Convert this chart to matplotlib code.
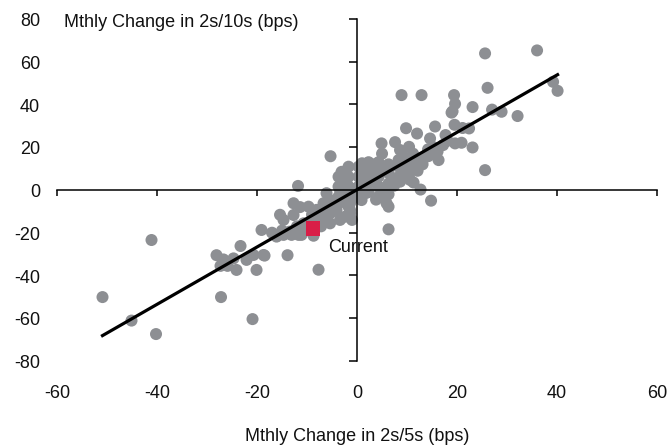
import numpy as np
from matplotlib import pyplot as plt
from matplotlib import transforms

plt.rcParams['font.family'] = ['Liberation Sans', 'DejaVu Sans']

# monthly changes, 2s/5s (x) vs 2s/10s (y), bps
chg_2s5s = [
    -50.9, -45.1, -40.2, -41.1, -27.2, -20.9, -28.1, -26.7, -27.3, -23.3,
    -24.1, -22.1, -20.1, -20.7, -18.5, -19.1, -13.9, -7.7, -11.8, -12.7,
    -15.4, -16.1, -14.7, -5.3, -3.1, 6.3, 14.8, 12.7, 8.6, 10.6,
    11.3, 6.3, 4.9, 7.6, 9.8, 12.0, 10.4, 15.6, 14.6, 17.7,
    19.5, 18.9, 8.9, 12.9, 19.4, 19.6, 19.1, 23.1, 26.1, 25.6,
    36.0, 27.0, 28.9, 32.1, 39.2, 40.1, 21.1, 22.4, 19.6, 20.9,
    23.1, 25.6, 14.3, 13.9, 9.3, 8.6, 5.0, 10.3, 0.9, -1.4,
    -1.4, 5.9, -8.7, -24.7, -18.7, -25.9,
    -13.1, -11.7, -11.1, -9.7, -8.1, -6.7, -5.4, -3.4, -2.1, -14.7,
    -12.7, -10.7, -12.0, -8.7, -6.7, -5.4, -4.1, -2.1, -0.7, -5.4,
    -3.4, -1.4, -1.0, -17.0, -16.0, -15.0, -13.5, -12.4, -10.2, -9.3,
    -7.6, -6.2, -4.8, -3.0, -2.6, -1.8, -0.4, -6.1, -4.0, -2.4,
    -3.7, -3.7, -3.7, -1.7, -1.7, -1.7, -1.7, -1.7, 0.3, 0.3,
    0.3, 0.3, 2.3, 2.3, 2.3, 2.3, 2.3, 4.3, 4.3, 4.3,
    4.3, 4.3, 6.3, 6.3, 6.3, 6.3, 8.3, 8.3, 8.3, 1.2,
    3.1, 5.2, 7.1, 9.4, 1.0, 3.5, 0.8, 2.9, 11.0, 12.2,
    13.1, 14.2, 15.3, 16.1, 17.2, 12.1, 11.2, 16.3, 18.1, 9.8,
    -0.9, 1.7, -2.8, 3.8, 5.6, 7.4, 10.1, -9.0, -7.2, -11.4,
]
chg_2s10s = [
    -50.1, -61.1, -67.4, -23.4, -50.1, -60.4, -30.5, -32.5, -35.5, -26.2,
    -37.4, -32.7, -37.4, -30.4, -30.7, -18.7, -30.5, -37.3, 1.9, -6.2,
    -11.6, -21.8, -21.0, 15.8, 8.5, -18.4, -5.0, 0.2, 3.9, 4.7,
    3.5, -7.8, 21.8, 22.4, 28.9, 26.4, 20.2, 29.7, 24.1, 25.7,
    30.5, 36.2, 44.4, 44.4, 44.4, 40.3, 36.8, 38.8, 47.8, 63.9,
    65.3, 37.6, 36.6, 34.6, 50.6, 46.4, 29.0, 28.8, 21.8, 22.1,
    19.9, 9.3, 15.9, 15.6, 15.6, 18.7, 17.0, 7.0, -4.7, -6.2,
    -9.4, -6.2, -21.4, -32.0, -30.4, -35.5,
    -21.0, -21.0, -21.0, -7.8, -9.3, -6.2, -4.7, 0.0, 3.1, -14.0,
    -11.7, -15.6, -17.0, -14.0, -12.5, -10.9, -9.3, -6.2, -3.1, -15.6,
    -14.0, -10.9, -14.0, -20.0, -21.5, -19.0, -19.5, -18.5, -17.5, -15.0,
    -12.0, -8.5, -10.0, -3.0, -5.5, -1.0, -2.5, -1.5, -7.0, -12.5,
    -3.1, 1.6, 6.2, -7.8, -3.1, 1.6, 6.2, 10.9, -3.1, 1.6,
    6.2, 10.9, -1.0, 3.0, 7.0, 11.0, 13.0, 1.6, 6.2, 10.9,
    13.0, -3.1, 3.0, 8.0, 12.0, -2.0, 6.0, 10.9, 14.0, 4.5,
    5.0, 9.0, 5.5, 10.0, 12.5, 12.0, 8.0, 9.5, 12.0, 14.0,
    12.0, 19.0, 20.0, 18.0, 21.0, 9.0, 17.0, 14.0, 23.0, 12.5,
    0.5, -1.5, -0.5, -4.5, 1.0, 2.0, 9.0, -11.5, -17.0, -8.0,
]

current_x = [-8.8]
current_y = [-18.2]

xticks = [-60, -40, -20, 0, 20, 40, 60]
yticks = [-80, -60, -40, -20, 0, 20, 40, 60, 80]

grey = '#8d8f93'
fsize = 13

fig = plt.figure(figsize=(6.69, 4.46), dpi=100)
ax = fig.add_axes([0.0852, 0.1906, 0.897, 0.7668])

ax.scatter(chg_2s5s, chg_2s10s, s=75, color=grey, edgecolors='none', zorder=2)

# linear trend across the sample range
xs = np.array(chg_2s5s)
slope, icpt = np.polyfit(xs, np.array(chg_2s10s), 1)
fit_x = np.array([xs.min(), xs.max()])
ax.plot(fit_x, slope * fit_x + icpt, color='black', lw=2.3, zorder=3)

ax.scatter(current_x, current_y, s=115, marker='s', color='#d91e47', edgecolors='none', zorder=4)
ax.text(current_x[0] + 3.0, current_y[0] - 8.9, 'Current', fontsize=fsize, ha='left', va='center',
        color='#111111', zorder=5)

ax.set_xlim(-60, 60)
ax.set_ylim(-80, 80)
for side in ['top', 'right']:
    ax.spines[side].set_visible(False)
ax.spines['left'].set_position(('data', 0))
ax.spines['bottom'].set_position(('data', 0))
ax.spines['left'].set_linewidth(1.1)
ax.spines['bottom'].set_linewidth(1.1)
ax.set_xticks(xticks)
ax.set_yticks(yticks)
ax.tick_params(axis='x', direction='out', length=4, width=1.1, labelbottom=False)
ax.tick_params(axis='y', direction='out', length=6, width=1.1, labelleft=False)

# tick labels sit at the frame edges, not at the centred axes
tx = transforms.blended_transform_factory(ax.transData, ax.transAxes)
for v in xticks:
    ax.text(v, -0.094, str(v), transform=tx, fontsize=fsize, ha='center', va='center', color='#111111')
ty = transforms.blended_transform_factory(ax.transAxes, ax.transData)
for v in yticks:
    ax.text(-0.028, v - 1.2, str(v), transform=ty, fontsize=fsize, ha='right', va='center', color='#111111')

ax.text(0.012, 0.991, 'Mthly Change in 2s/10s (bps)', transform=ax.transAxes, fontsize=fsize,
        ha='left', va='center', color='#111111')
ax.text(0.5, -0.222, 'Mthly Change in 2s/5s (bps)', transform=ax.transAxes, fontsize=fsize,
        ha='center', va='center', color='#111111')

fig.savefig('out.png', dpi=100)
